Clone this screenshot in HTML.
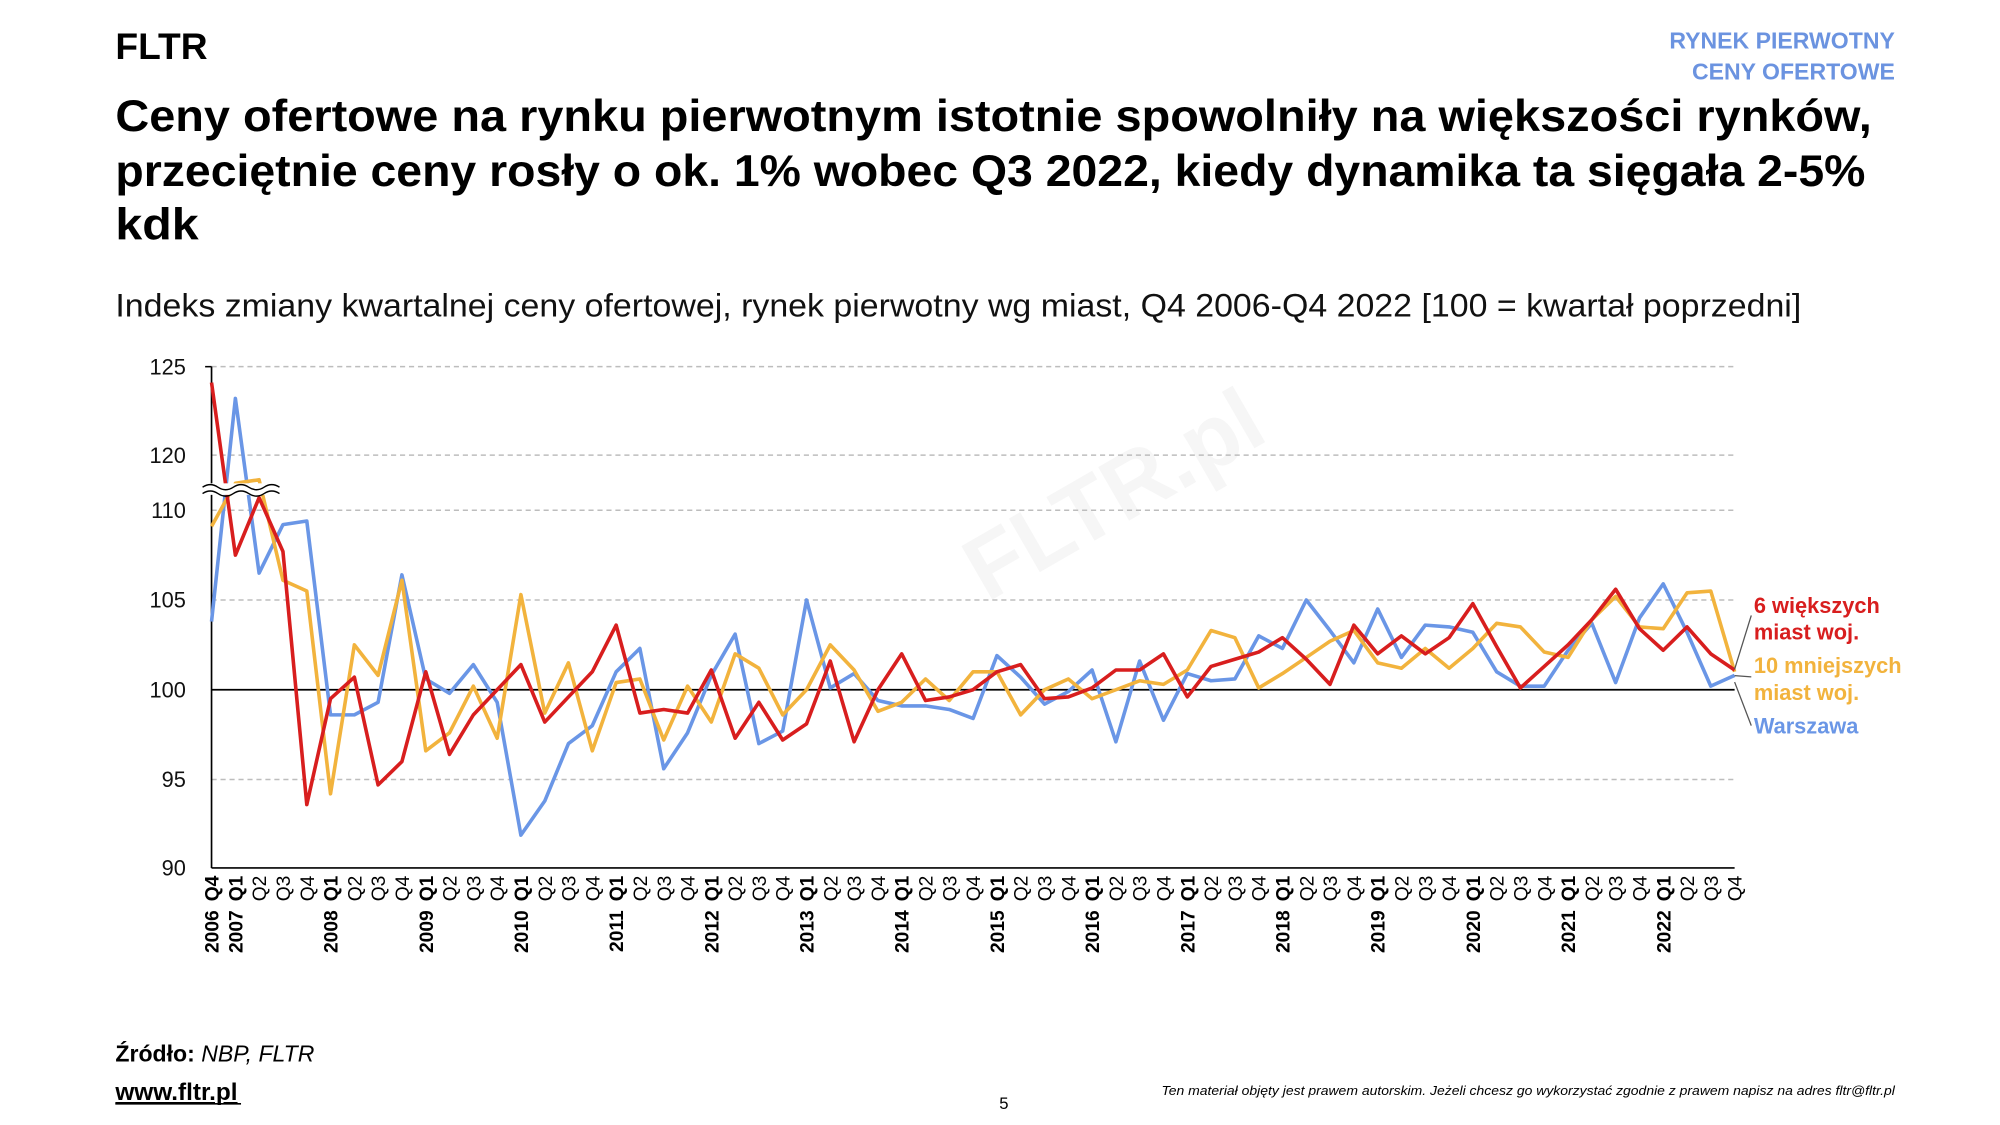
<!DOCTYPE html>
<html><head><meta charset="utf-8">
<style>
html,body{margin:0;padding:0;background:#fff;}
svg{display:block;}
text{font-family:"Liberation Sans",sans-serif;}
</style></head>
<body>
<svg id="s" width="2000" height="1125" viewBox="0 0 1560 877.5" preserveAspectRatio="none" xmlns="http://www.w3.org/2000/svg">
<rect width="1560" height="877.5" fill="#fff"/>
<text x="90" y="46" font-size="29" font-weight="bold" fill="#000">FLTR</text>
<text x="1478" y="38" font-size="18" font-weight="bold" fill="#6b93e0" text-anchor="end">RYNEK PIERWOTNY</text>
<text x="1478" y="62" font-size="18" font-weight="bold" fill="#6b93e0" text-anchor="end">CENY OFERTOWE</text>
<text x="90" y="102" font-size="35" font-weight="bold" textLength="1370" lengthAdjust="spacingAndGlyphs">Ceny ofertowe na rynku pierwotnym istotnie spowolniły na większości rynków,</text>
<text x="90" y="145" font-size="35" font-weight="bold" textLength="1365" lengthAdjust="spacingAndGlyphs">przeciętnie ceny rosły o ok. 1% wobec Q3 2022, kiedy dynamika ta sięgała 2-5%</text>
<text x="90" y="187" font-size="35" font-weight="bold" textLength="65" lengthAdjust="spacingAndGlyphs">kdk</text>
<text x="90" y="247" font-size="25" fill="#111" textLength="1315" lengthAdjust="spacingAndGlyphs">Indeks zmiany kwartalnej ceny ofertowej, rynek pierwotny wg miast, Q4 2006-Q4 2022 [100 = kwartał poprzedni]</text>
<text x="770" y="470" font-size="70" font-weight="bold" fill="#f6f6f6" transform="rotate(-30 770 470)">FLTR.pl</text>
<g id="chart"></g>
<text x="90" y="828" font-size="18"><tspan font-weight="bold">Źródło:</tspan><tspan font-style="italic"> NBP, FLTR</tspan></text>
<text x="90" y="858" font-size="19" font-weight="bold" text-decoration="underline">www.fltr.pl</text>
<line x1="90" y1="861" x2="188" y2="861" stroke="#000" stroke-width="1.3"/>
<text x="783" y="865" font-size="13" text-anchor="middle">5</text>
<text x="1478" y="854" font-size="10" font-style="italic" text-anchor="end" textLength="572" lengthAdjust="spacingAndGlyphs">Ten materiał objęty jest prawem autorskim. Jeżeli chcesz go wykorzystać zgodnie z prawem napisz na adres fltr@fltr.pl</text>
</svg>
<script>
(function(){
var g=document.getElementById('chart'),NS='http://www.w3.org/2000/svg';
function el(t,a,txt){var e=document.createElementNS(NS,t);for(var k in a)e.setAttribute(k,a[k]);if(txt!=null)e.textContent=txt;g.appendChild(e);return e;}
var X0=165,X1=1353,dx=(X1-X0)/64;
function Y(v){return v<=114?538-(v-100)*14:355-(v-120)*13.8;}
[125,120,110,105,95].forEach(function(v){el('line',{x1:X0,x2:X1,y1:Y(v),y2:Y(v),stroke:'#bdbdbd','stroke-width':1.2,'stroke-dasharray':'4 3'});});
[[125,286],[120,355],[110,398],[105,468],[100,538],[95,608],[90,677]].forEach(function(p){el('text',{x:145,y:p[1]+6,'font-size':17,'text-anchor':'end',fill:'#111'},String(p[0]));});
el('line',{x1:X0,x2:X1,y1:538,y2:538,stroke:'#000','stroke-width':1.3});
el('line',{x1:X0,x2:X0,y1:286,y2:677,stroke:'#000','stroke-width':1.3});
el('line',{x1:X0,x2:X1,y1:677,y2:677,stroke:'#000','stroke-width':1.3});
el('line',{x1:X0-5,x2:X0,y1:286,y2:286,stroke:'#000','stroke-width':1.2});
var red=[124.1,107.5,110.7,107.7,93.6,99.5,100.7,94.7,96.0,101.0,96.4,98.6,100,101.4,98.2,99.6,101.0,103.6,98.7,98.9,98.7,101.1,97.3,99.3,97.2,98.1,101.6,97.1,100.0,102.0,99.4,99.6,100.0,101.0,101.4,99.5,99.6,100.1,101.1,101.1,102.0,99.6,101.3,101.7,102.1,102.9,101.7,100.3,103.6,102.0,103.0,102.0,102.9,104.8,102.4,100.1,101.3,102.5,103.9,105.6,103.4,102.2,103.5,102.0,101.1];
var blue=[103.8,123.2,106.5,109.2,109.4,98.6,98.6,99.3,106.4,100.6,99.8,101.4,99.3,91.9,93.8,97.0,98.0,101.0,102.3,95.6,97.6,100.8,103.1,97.0,97.7,105.0,100.1,100.9,99.4,99.1,99.1,98.9,98.4,101.9,100.7,99.2,99.9,101.1,97.1,101.6,98.3,100.9,100.5,100.6,103.0,102.3,105.0,103.3,101.5,104.5,101.8,103.6,103.5,103.2,101.0,100.2,100.2,102.2,103.7,100.4,104.0,105.9,103.2,100.2,100.8];
var yel=[109.1,111.5,111.7,106.1,105.5,94.2,102.5,100.8,106.1,96.6,97.6,100.2,97.3,105.3,98.7,101.5,96.6,100.4,100.6,97.2,100.2,98.2,102.0,101.2,98.6,100.0,102.5,101.1,98.8,99.3,100.6,99.4,101.0,101.0,98.6,100.0,100.6,99.5,100.0,100.5,100.3,101.1,103.3,102.9,100.1,100.9,101.8,102.7,103.3,101.5,101.2,102.3,101.2,102.3,103.7,103.5,102.1,101.8,103.9,105.2,103.5,103.4,105.4,105.5,101.0];
function line(d,c){el('polyline',{points:d.map(function(v,i){return (X0+i*dx).toFixed(1)+','+Y(v).toFixed(1);}).join(' '),fill:'none',stroke:c,'stroke-width':2.8,'stroke-linejoin':'round'});}
line(blue,'#6a96e6');line(yel,'#f2b33d');line(red,'#d81e1e');
el('rect',{x:158,y:377,width:60,height:9,fill:'#fff'});
['M158,380 q6,-4 12,0 t12,0 t12,0 t12,0 t12,0','M158,385 q6,-4 12,0 t12,0 t12,0 t12,0 t12,0'].forEach(function(d){el('path',{d:d,fill:'none',stroke:'#000','stroke-width':1.1});});
for(var i=0;i<65;i++){var x=X0+i*dx+5.5,q=(i+3)%4+1;var bold=(q==1||i==0);
 el('text',{x:0,y:0,'font-size':15,'font-weight':bold?'bold':'normal','text-anchor':'end',transform:'translate('+x+',683) rotate(-90)',fill:'#000'},'Q'+(i==0?4:q));
 if(i==0||q==1){var yr=i==0?2006:2007+Math.floor((i-1)/4);el('text',{x:0,y:0,'font-size':15,'font-weight':'bold','text-anchor':'end',transform:'translate('+x+',710) rotate(-90)',fill:'#000'},String(yr));}}
el('line',{x1:1353,y1:522,x2:1366,y2:480,stroke:'#555','stroke-width':1});
el('line',{x1:1353,y1:527,x2:1366,y2:528,stroke:'#555','stroke-width':1});
el('line',{x1:1353,y1:532,x2:1366,y2:566,stroke:'#555','stroke-width':1});
[['6 większych',478,'#d81e1e'],['miast woj.',499,'#d81e1e'],['10 mniejszych',525,'#f2b33d'],['miast woj.',546,'#f2b33d'],['Warszawa',572,'#6a96e6']].forEach(function(t){el('text',{x:1368,y:t[1],'font-size':17,'font-weight':'bold',fill:t[2]},t[0]);});
})();
</script>
</body></html>
